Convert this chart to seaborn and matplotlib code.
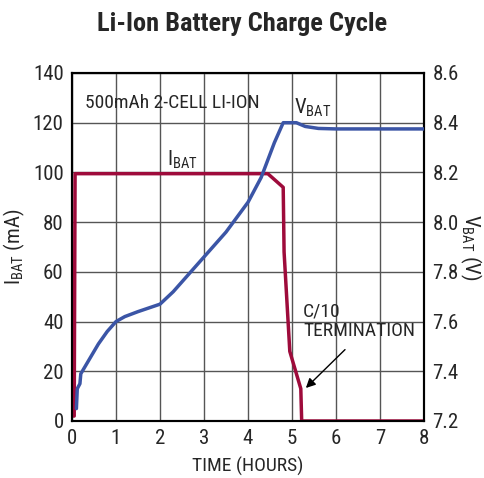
import matplotlib
matplotlib.use("Agg")
import matplotlib.pyplot as plt
import seaborn as sns
from matplotlib import font_manager

# Data
i_time = [0.0, 0.05, 0.07, 4.45, 4.8, 4.82, 4.95, 5.2, 5.22, 8.0]
i_bat = [2, 2, 99.5, 99.5, 94, 68, 28, 13, 0, 0]

v_time = [0.1, 0.12, 0.18, 0.2, 0.4, 0.6, 0.8, 1.0, 1.2, 1.5, 2.0, 2.3, 2.6,
          3.0, 3.5, 4.0, 4.3, 4.6, 4.8, 5.1, 5.3, 5.6, 6.0, 8.0]
v_bat = [7.25, 7.33, 7.35, 7.39, 7.45, 7.51, 7.56, 7.60, 7.62, 7.64, 7.67,
         7.72, 7.78, 7.86, 7.96, 8.08, 8.18, 8.32, 8.40, 8.40, 8.385, 8.377,
         8.375, 8.375]

x_ticks = [0, 1, 2, 3, 4, 5, 6, 7, 8]
i_ticks = [0, 20, 40, 60, 80, 100, 120, 140]
v_ticks = [7.2, 7.4, 7.6, 7.8, 8.0, 8.2, 8.4, 8.6]

sns.set_theme(style="white")
names = {f.name for f in font_manager.fontManager.ttflist}
fam = "Liberation Sans"
narrow = False
for cand in ["Roboto Condensed", "Liberation Sans Narrow", "Open Sans Condensed",
             "DejaVu Sans Condensed"]:
    if cand in names:
        fam = cand
        narrow = True
        break
plt.rcParams['font.family'] = [fam, 'DejaVu Sans']
k = 1.0 if narrow else 0.8

fig = plt.figure(figsize=(4.85, 4.78), dpi=100)
ax = fig.add_axes([72/485, 1-421/478, (424-72)/485, (421-73)/478])
ax2 = ax.twinx()

red = "#9E0B3B"
blue = "#3B55A6"

sns.lineplot(x=i_time, y=i_bat, ax=ax, color=red, lw=2.5, sort=False, zorder=3)
sns.lineplot(x=v_time, y=v_bat, ax=ax2, color=blue, lw=2.5, sort=False, zorder=3)

ax.set_xlim(0, 8)
ax.set_ylim(0, 140)
ax2.set_ylim(7.2, 8.6)
ax.set_xticks(x_ticks)
ax.set_yticks(i_ticks)
ax2.set_yticks(v_ticks)
ax.set_xticklabels([str(t) for t in x_ticks])
ax.set_yticklabels([str(t) for t in i_ticks])
ax2.set_yticklabels([f"{t:.1f}" for t in v_ticks])
ax.tick_params(labelsize=15*k, length=0, pad=6)
ax2.tick_params(labelsize=15*k, length=0, pad=6)
ax.grid(True, color="#555555", lw=1)
for a in (ax, ax2):
    for s in a.spines.values():
        s.set_color("black")
        s.set_linewidth(1.5)

ax.set_xlabel("TIME (HOURS)", fontsize=14*k, labelpad=6)
ax.set_ylabel(r"I$_{\mathregular{BAT}}$ (mA)", fontsize=15*k, labelpad=4)
ax2.set_ylabel(r"V$_{\mathregular{BAT}}$ (V)", fontsize=15*k, rotation=270, labelpad=18)

fig.suptitle("Li-Ion Battery Charge Cycle", fontsize=19*k, fontweight="bold", y=0.975)

ax.text(0.3, 128, "500mAh 2-CELL LI-ION", fontsize=14*k, va="center")
ax.text(2.15, 105, r"I$_{\mathregular{BAT}}$", fontsize=15*k, va="center")
ax.text(5.05, 126, r"V$_{\mathregular{BAT}}$", fontsize=15*k, va="center")
ax.text(5.25, 40, "C/10\nTERMINATION", fontsize=14*k, va="center",
        ha="left", linespacing=1.1)
ax.annotate("", xy=(5.27, 12.5), xytext=(6.25, 29.5),
            arrowprops=dict(arrowstyle="-|>", color="black", lw=1, mutation_scale=14))

fig.savefig("out.png", dpi=100)
